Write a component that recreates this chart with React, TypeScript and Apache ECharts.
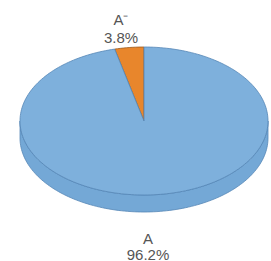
import React, { useEffect, useRef } from "react";
import * as echarts from "echarts";

const categories = ["A⁻", "A"];
const values = [3.8, 96.2];
const percentLabels = ["3.8%", "96.2%"];

const topColors = ["#e8862c", "#7eb0dc"];
const sideColors = ["#cc7222", "#74a8d6"];
const edgeColors = ["#9a5a20", "#5686b6"];

export default function App() {
  const ref = useRef<HTMLDivElement>(null);
  useEffect(() => {
    if (!ref.current) return;
    const chart = echarts.init(ref.current, null, { renderer: "svg" });
    const total = values.reduce((a, b) => a + b, 0);
    const cx = 144, cy = 121, rx = 124, ry = 74, depth = 17;
    const pt = (deg: number, dy = 0) => {
      const a = (deg * Math.PI) / 180;
      return [cx + rx * Math.cos(a), cy - ry * Math.sin(a) + dy];
    };
    const arc = (s: number, e: number, dy = 0) => {
      const pts: number[][] = [];
      const n = Math.max(2, Math.ceil(Math.abs(e - s) / 1.5));
      for (let i = 0; i <= n; i++) pts.push(pt(s + ((e - s) * i) / n, dy));
      return pts;
    };
    const renderItem = (params: any, api: any) => {
      const idx = params.dataIndex;
      let cum = 0;
      for (let i = 0; i < idx; i++) cum += values[i];
      const val = api.value(1);
      const start = 90 + (360 * cum) / total;
      const end = start + (360 * val) / total;
      const children: any[] = [];
      const segs: number[][] = [];
      for (let base = 0; base <= 720; base += 360) {
        const s = Math.max(start, 180 + base);
        const e = Math.min(end, 360 + base);
        if (e > s) segs.push([s, e]);
      }
      segs.forEach(([s, e]) => {
        const upper = arc(s, e);
        const lower = arc(e, s, depth);
        children.push({
          type: "polygon",
          z2: 1,
          shape: { points: upper.concat(lower) },
          style: { fill: sideColors[idx], stroke: edgeColors[idx], lineWidth: 0.8 },
        });
      });
      const topPts = [[cx, cy]].concat(arc(start, end));
      children.push({
        type: "polygon",
        z2: 2,
        shape: { points: topPts },
        style: { fill: topColors[idx], stroke: edgeColors[idx], lineWidth: 0.8, lineJoin: "round" },
      });
      const mid = (start + end) / 2;
      const upperHalf = Math.sin((mid * Math.PI) / 180) > 0;
      const lx = upperHalf ? cx - 23 : cx + 4;
      const ly1 = upperHalf ? 19 : 238;
      const ly2 = upperHalf ? 37 : 254;
      const font = "15px 'Liberation Sans', Arial, sans-serif";
      children.push({
        type: "text",
        z2: 3,
        style: { text: categories[idx], x: lx, y: ly1, fill: "#555555", font, textAlign: "center", textVerticalAlign: "middle" },
      });
      children.push({
        type: "text",
        z2: 3,
        style: { text: percentLabels[idx], x: lx, y: ly2, fill: "#555555", font, textAlign: "center", textVerticalAlign: "middle" },
      });
      return { type: "group", children };
    };
    chart.setOption({
      animation: false,
      backgroundColor: "#ffffff",
      series: [
        {
          type: "custom",
          coordinateSystem: "none",
          renderItem,
          data: values.map((v, i) => [i, v]),
        },
      ],
    });
    return () => chart.dispose();
  }, []);
  return <div ref={ref} style={{ width: 271, height: 261, position: "absolute", left: 0, top: 0 }} />;
}
